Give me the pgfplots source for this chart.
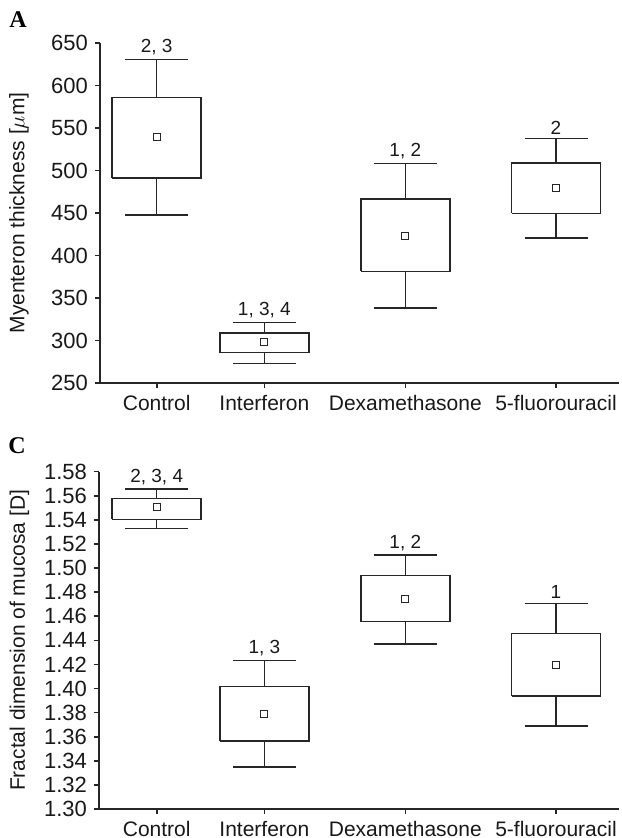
\documentclass[border=0pt]{standalone}
\usepackage{pgfplots}
\pgfplotsset{compat=1.18}
\usepackage{fontspec}
\setmainfont{Liberation Sans}
\newfontfamily\panelfont{Liberation Serif}

% x positions are pixel columns of the reference (1 unit = 0.5pt)
\pgfplotsset{
  panel/.style={
    scale only axis,
    axis lines=left,
    axis line style={-, line width=0.9pt, black!85},
    clip=false,
    enlargelimits=false,
    xtick={156.7,264.4,405.3,556},
    xticklabels={Control,Interferon,Dexamethasone,5-fluorouracil},
    tick align=outside,
    major tick length=2.5pt,
    tick style={line width=0.8pt, black!85},
    xticklabel style={font=\fontsize{10.5}{12}\selectfont, text=black!90},
    yticklabel style={font=\fontsize{11}{12}\selectfont, text=black!90,
      /pgf/number format/assume math mode=true},
    label style={font=\fontsize{10.5}{12}\selectfont, text=black!90},
  },
  bx/.style={draw=black!85, line width=0.75pt, fill=white, mark=none},
  wh/.style={draw=none, mark=none, forget plot,
    error bars/.cd, y dir=both, y explicit, error mark=|,
    error bar style={draw=black!85, line width=0.75pt},
    error mark options={draw=black!85, line width=0.75pt, mark size=15.75pt}},
  avg/.style={only marks, mark=square*, mark size=1.75pt,
    mark options={fill=white, draw=black!85, line width=0.5pt}},
  sig/.style={only marks, mark=none, nodes near coords,
    point meta=explicit symbolic,
    nodes near coords style={font=\fontsize{9.5}{10}\selectfont, text=black!90,
      anchor=south, inner sep=2pt}},
}

\begin{document}
\begin{tikzpicture}
\useasboundingbox (0,0) rectangle (310.5pt,419pt);

\begin{axis}[panel,
  at={(50pt,227.5pt)}, anchor=south west,
  width=259.5pt, height=170pt,
  xmin=100, xmax=619,
  ymin=250, ymax=650,
  ytick={250,300,...,650},
  ylabel={Myenteron thickness [$\mu$m]},
  ylabel style={at={(axis description cs:-0.156,0.5)}, anchor=center},
]
% whiskers: from lower quartile, += to upper whisker, -= to lower whisker
\addplot[wh] coordinates {
  (156.7,491.4) += (0,139.3) -= (0,44.0)
  (264.4,285.8) += (0,35.3)  -= (0,12.8)
  (405.3,381.3) += (0,127.1) -= (0,42.8)
  (556.0,449.4) += (0,88.0)  -= (0,28.8)};
% boxes: lower to upper quartile
\addplot[bx] coordinates {(112.2,491.4) (201.2,491.4) (201.2,585.8) (112.2,585.8) (112.2,491.4)};
\addplot[bx] coordinates {(219.9,285.8) (308.9,285.8) (308.9,309.0) (219.9,309.0) (219.9,285.8)};
\addplot[bx] coordinates {(360.8,381.3) (449.8,381.3) (449.8,466.5) (360.8,466.5) (360.8,381.3)};
\addplot[bx] coordinates {(511.5,449.4) (600.5,449.4) (600.5,509.1) (511.5,509.1) (511.5,449.4)};
\addplot[avg] coordinates {(156.7,539.8) (264.4,298.0) (405.3,423.0) (556.0,479.0)};
\addplot[sig] coordinates {(156.7,630.7) [2, 3] (264.4,321.1) [1, 3, 4]
  (405.3,508.4) [1, 2] (556.0,537.4) [2]};
\end{axis}

\begin{axis}[panel,
  at={(49.5pt,14.5pt)}, anchor=south west,
  width=260pt, height=168.65pt,
  xmin=99, xmax=619,
  ymin=1.30, ymax=1.58,
  ytick={1.30,1.32,...,1.59},
  yticklabel style={/pgf/number format/.cd, fixed, fixed zerofill, precision=2},
  ylabel={Fractal dimension of mucosa [D]},
  ylabel style={at={(axis description cs:-0.153,0.5)}, anchor=center},
]
\addplot[wh] coordinates {
  (156.7,1.5405) += (0,0.0251) -= (0,0.0078)
  (264.4,1.3564) += (0,0.0667) -= (0,0.0215)
  (405.3,1.4555) += (0,0.0553) -= (0,0.0185)
  (556.0,1.3938) += (0,0.0769) -= (0,0.0249)};
\addplot[bx] coordinates {(112.2,1.5405) (201.2,1.5405) (201.2,1.5576) (112.2,1.5576) (112.2,1.5405)};
\addplot[bx] coordinates {(219.9,1.3564) (308.9,1.3564) (308.9,1.4015) (219.9,1.4015) (219.9,1.3564)};
\addplot[bx] coordinates {(360.8,1.4555) (449.8,1.4555) (449.8,1.4937) (360.8,1.4937) (360.8,1.4555)};
\addplot[bx] coordinates {(511.5,1.3938) (600.5,1.3938) (600.5,1.4455) (511.5,1.4455) (511.5,1.3938)};
\addplot[avg] coordinates {(156.7,1.5507) (264.4,1.3789) (405.3,1.4743) (556.0,1.4195)};
\addplot[sig] coordinates {(156.7,1.5656) [2, 3, 4] (264.4,1.4231) [1, 3]
  (405.3,1.5108) [1, 2] (556.0,1.4707) [1]};
\end{axis}

\node[font=\panelfont\bfseries\fontsize{12}{14}\selectfont] at (9pt,409pt) {A};
\node[font=\panelfont\bfseries\fontsize{12}{14}\selectfont] at (8.5pt,196pt) {C};
\end{tikzpicture}
\end{document}
